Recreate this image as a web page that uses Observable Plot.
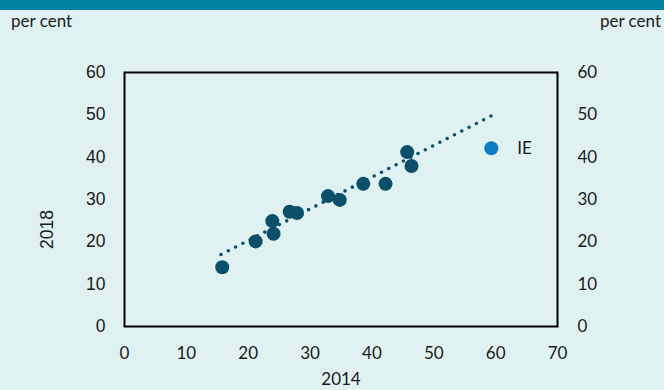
<!DOCTYPE html>
<html>
<head>
<meta charset="utf-8">
<script src="https://cdn.jsdelivr.net/npm/d3@7"></script>
<script src="https://cdn.jsdelivr.net/npm/@observablehq/plot@0.6"></script>
<style>
  html, body { margin: 0; padding: 0; }
  body { width: 664px; height: 390px; overflow: hidden; background: #dff2f1; }
  #wrap { position: relative; width: 664px; height: 390px; background: #dff2f1; font-family: Lato, sans-serif; }
  #bar { position: absolute; left: 0; top: 0; width: 664px; height: 10px; background: #0383a3; }
  .unit { position: absolute; top: 12px; font-size: 17px; line-height: 17px; color: #1a1a1a; white-space: nowrap; }
  #unitL { left: 11px; }
  #unitR { right: 3px; }
  #chart { position: absolute; left: 0; top: 0; }
</style>
</head>
<body>
<div id="wrap">
  <div id="chart"></div>
  <div id="bar"></div>
  <div class="unit" id="unitL">per cent</div>
  <div class="unit" id="unitR">per cent</div>
</div>
<script>
// Data
const x2014 = [15.8, 21.2, 23.9, 24.1, 26.7, 27.9, 32.9, 34.8, 38.6, 42.2, 45.7, 46.4];
const y2018 = [14.0, 20.1, 24.9, 21.9, 27.1, 26.8, 30.8, 29.9, 33.7, 33.7, 41.2, 37.9];
const highlightName = ["IE"];
const highlightX = [59.3];
const highlightY = [42.1];
const trendX = [15.6, 59.5];
const trendY = [17.0, 49.9];
const xTicks = [0, 10, 20, 30, 40, 50, 60, 70];
const yTicks = [0, 10, 20, 30, 40, 50, 60];
const xTitle = "2014";
const yTitle = "2018";

const dark = "#0b4f6b";
const bright = "#0a7dc3";

const points = x2014.map((x, i) => ({x, y: y2018[i]}));
const highlight = highlightName.map((name, i) => ({name, x: highlightX[i], y: highlightY[i]}));
const trend = trendX.map((x, i) => ({x, y: trendY[i]}));

const chart = Plot.plot({
  width: 664,
  height: 390,
  marginLeft: 124,
  marginRight: 107,
  marginTop: 72,
  marginBottom: 64,
  style: {background: "transparent", fontFamily: "Lato", fontSize: "17px", color: "#1a1a1a"},
  x: {domain: [0, 70]},
  y: {domain: [0, 60]},
  marks: [
    Plot.axisY(yTicks, {anchor: "left", tickSize: 0, tickPadding: 19, label: null, fontFamily: "Liberation Sans", fontSize: 17.5}),
    Plot.axisY(yTicks, {anchor: "right", tickSize: 0, tickPadding: 20, label: null}),
    Plot.axisX(xTicks, {anchor: "bottom", tickSize: 0, tickPadding: 20, label: null}),
    Plot.line(trend, {x: "x", y: "y", stroke: dark, strokeWidth: 3.6, strokeDasharray: "0,8.2", strokeLinecap: "round"}),
    Plot.dot(points, {x: "x", y: "y", r: 7, fill: dark, stroke: null}),
    Plot.dot(highlight, {x: "x", y: "y", r: 7, fill: bright, stroke: null}),
    Plot.text(highlight, {x: "x", y: "y", text: "name", dx: 26, textAnchor: "start", fill: "#1a1a1a"}),
    Plot.text([yTitle], {frameAnchor: "left", textAnchor: "middle", lineAnchor: "middle", dx: -77, dy: 30, rotate: -90, fontFamily: "Liberation Sans", fontSize: 17.5, fill: "#1a1a1a"}),
    Plot.text([xTitle], {frameAnchor: "bottom", textAnchor: "middle", lineAnchor: "middle", dy: 53, fill: "#1a1a1a"}),
    Plot.frame({stroke: "#000", strokeWidth: 2})
  ]
});
document.getElementById("chart").appendChild(chart);
</script>
</body>
</html>
